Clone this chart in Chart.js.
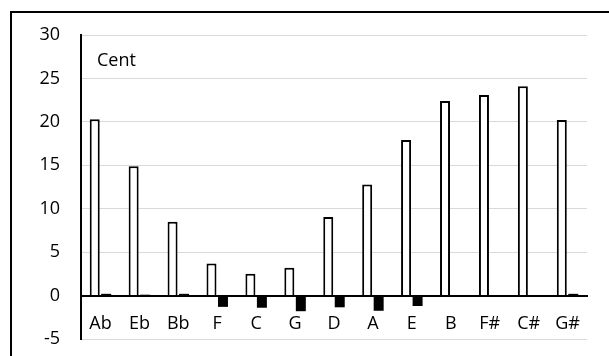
<!DOCTYPE html>
<html>
<head>
<meta charset="utf-8">
<script src="https://cdn.jsdelivr.net/npm/chart.js@4.4.1/dist/chart.umd.min.js"></script>
<style>
  html, body { margin: 0; padding: 0; background: #fff; }
  canvas { display: block; }
</style>
</head>
<body>
<canvas id="myChart" width="609" height="356"></canvas>
<script>
// tên nốt
const notes = ['Ab', 'Eb', 'Bb', 'F', 'C', 'G', 'D', 'A', 'E', 'B', 'F#', 'C#', 'G#'];
// cột trắng
const whiteVals = [20.3, 14.9, 8.5, 3.7, 2.5, 3.2, 9.05, 12.8, 17.9, 22.4, 23.1, 24.1, 20.2];
// cột đen
const blackVals = [0.2, 0.1, 0.2, -1.3, -1.4, -1.8, -1.35, -1.75, -1.2, 0, 0, 0, 0.2];
const yTicks = [-5, 0, 5, 10, 15, 20, 25, 30];
const unitLabel = 'Cent';

const FONT = "'Open Sans', sans-serif";

// vẽ khung + chữ Cent
const extras = {
    id: 'extras',
    afterDraw(chart) {
        const ctx = chart.ctx;
        ctx.save();
        ctx.strokeStyle = '#000';
        ctx.lineWidth = 2;
        ctx.beginPath();
        ctx.moveTo(11, 356);
        ctx.lineTo(11, 12);
        ctx.lineTo(609, 12);
        ctx.stroke();
        ctx.fillStyle = '#000';
        ctx.font = '18px ' + FONT;
        ctx.textBaseline = 'alphabetic';
        ctx.fillText(unitLabel, chart.chartArea.left + 16, 66);
        ctx.restore();
    }
};

const ctx = document.getElementById('myChart').getContext('2d');
new Chart(ctx, {
    type: 'bar',
    data: {
        labels: notes,
        datasets: [{
            data: whiteVals,
            backgroundColor: '#fff',
            borderColor: '#000',
            borderWidth: 2
        },
        {
            data: blackVals,
            backgroundColor: '#000',
            borderColor: '#000',
            borderWidth: 0
        }]
    },
    options: {
        responsive: false,
        animation: false,
        categoryPercentage: 0.59,
        barPercentage: 0.87,
        layout: { padding: { left: 0, right: 22, top: 35, bottom: 17 } },
        plugins: { legend: { display: false }, tooltip: { enabled: false } },
        scales: {
            x: {
                position: { y: 0 },
                afterFit: (s) => { s.height = 0; s.paddingLeft = 0; s.paddingRight = 0; },
                grid: { display: false, drawTicks: false },
                border: { display: true, color: '#000', width: 2 },
                ticks: { color: '#000', font: { family: FONT, size: 18 }, padding: 18 }
            },
            y: {
                min: -5,
                max: 30,
                afterBuildTicks: (s) => { s.ticks = yTicks.map(v => ({ value: v })); },
                afterFit: (s) => { s.width = 81; s.paddingTop = 0; s.paddingBottom = 0; },
                grid: { color: '#d9d9d9', lineWidth: 1, drawTicks: false },
                border: { display: true, color: '#000', width: 2 },
                ticks: { color: '#000', font: { family: FONT, size: 18 }, padding: 21 }
            }
        }
    },
    plugins: [extras]
});
</script>
</body>
</html>
